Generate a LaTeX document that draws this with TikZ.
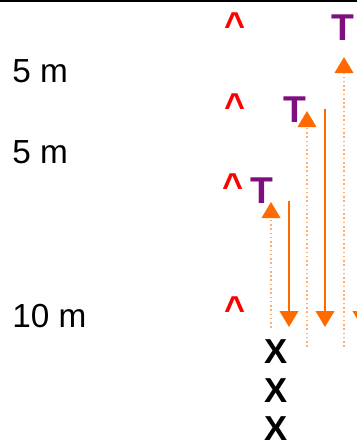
\documentclass[tikz,border=0pt]{standalone}
\usepackage{fontspec}
\setmainfont{Liberation Sans}
\usepackage{xcolor}
\usetikzlibrary{arrows.meta,positioning}
\definecolor{TopOrange}{HTML}{FF6A00}
\definecolor{TopPurple}{HTML}{7F0F7E}

\begin{document}
\begin{tikzpicture}[
	x=0.75pt, y=-0.75pt,
	depth/.style={anchor=base west, inner sep=0pt, font=\fontsize{25}{30}\selectfont},
	hat/.style={inner sep=0pt, text=red, font=\bfseries\fontsize{27}{30}\selectfont},
	top/.style={anchor=base, inner sep=0pt, text=TopPurple, font=\bfseries\fontsize{28}{32}\selectfont},
	cross/.style={inner sep=0pt, font=\bfseries\fontsize{26}{30}\selectfont},
	rise/.style={-{Triangle[width=14pt,length=12pt,color=TopOrange]}, draw=TopOrange!55, line width=1.2pt, dotted},
	fall/.style={-{Triangle[width=14pt,length=12pt]}, TopOrange, line width=1.3pt}
]
\useasboundingbox (0,0) rectangle (357,447);
\clip (0,0) rectangle (357,447);
\draw[line width=1.5pt] (0,1) -- (357,1);

\node[depth] (d1) at (12,82) {5 m};
\node[depth] (d2) at (12,163) {5 m};
\node[depth] (d3) at (12,327) {10 m};

\node[hat] (h1) at (235,25) {\textasciicircum};
\node[hat] (h2) at (235,106) {\textasciicircum};
\node[hat] (h3) at (233,186) {\textasciicircum};
\node[hat] (h4) at (235,309) {\textasciicircum};

\node[top] (t1) at (343,40) {T};
\node[top] (t2) at (295,122) {T};
\node[top] (t3) at (262,203) {T};

\node[cross] (x1) at (276,352) {X};
\node[cross] (x2) at (276,391) {X};
\node[cross] (x3) at (276,429) {X};

% up arrows
\coordinate (u1a) at (344,347); \coordinate (u1b) at (344,57);
\coordinate (u2a) at (307,347); \coordinate (u2b) at (307,111);
\coordinate (u3a) at (271,328); \coordinate (u3b) at (271,202);
\draw[rise] (u1a) -- (u1b);
\draw[rise] (u2a) -- (u2b);
\draw[rise] (u3a) -- (u3b);

% down arrows
\coordinate (f1a) at (289,201); \coordinate (f1b) at (289,327);
\coordinate (f2a) at (325,109); \coordinate (f2b) at (325,327);
\coordinate (f3a) at (362,20);  \coordinate (f3b) at (362,327);
\draw[fall] (f1a) -- (f1b);
\draw[fall] (f2a) -- (f2b);
\draw[fall] (f3a) -- (f3b);
\end{tikzpicture}
\end{document}
